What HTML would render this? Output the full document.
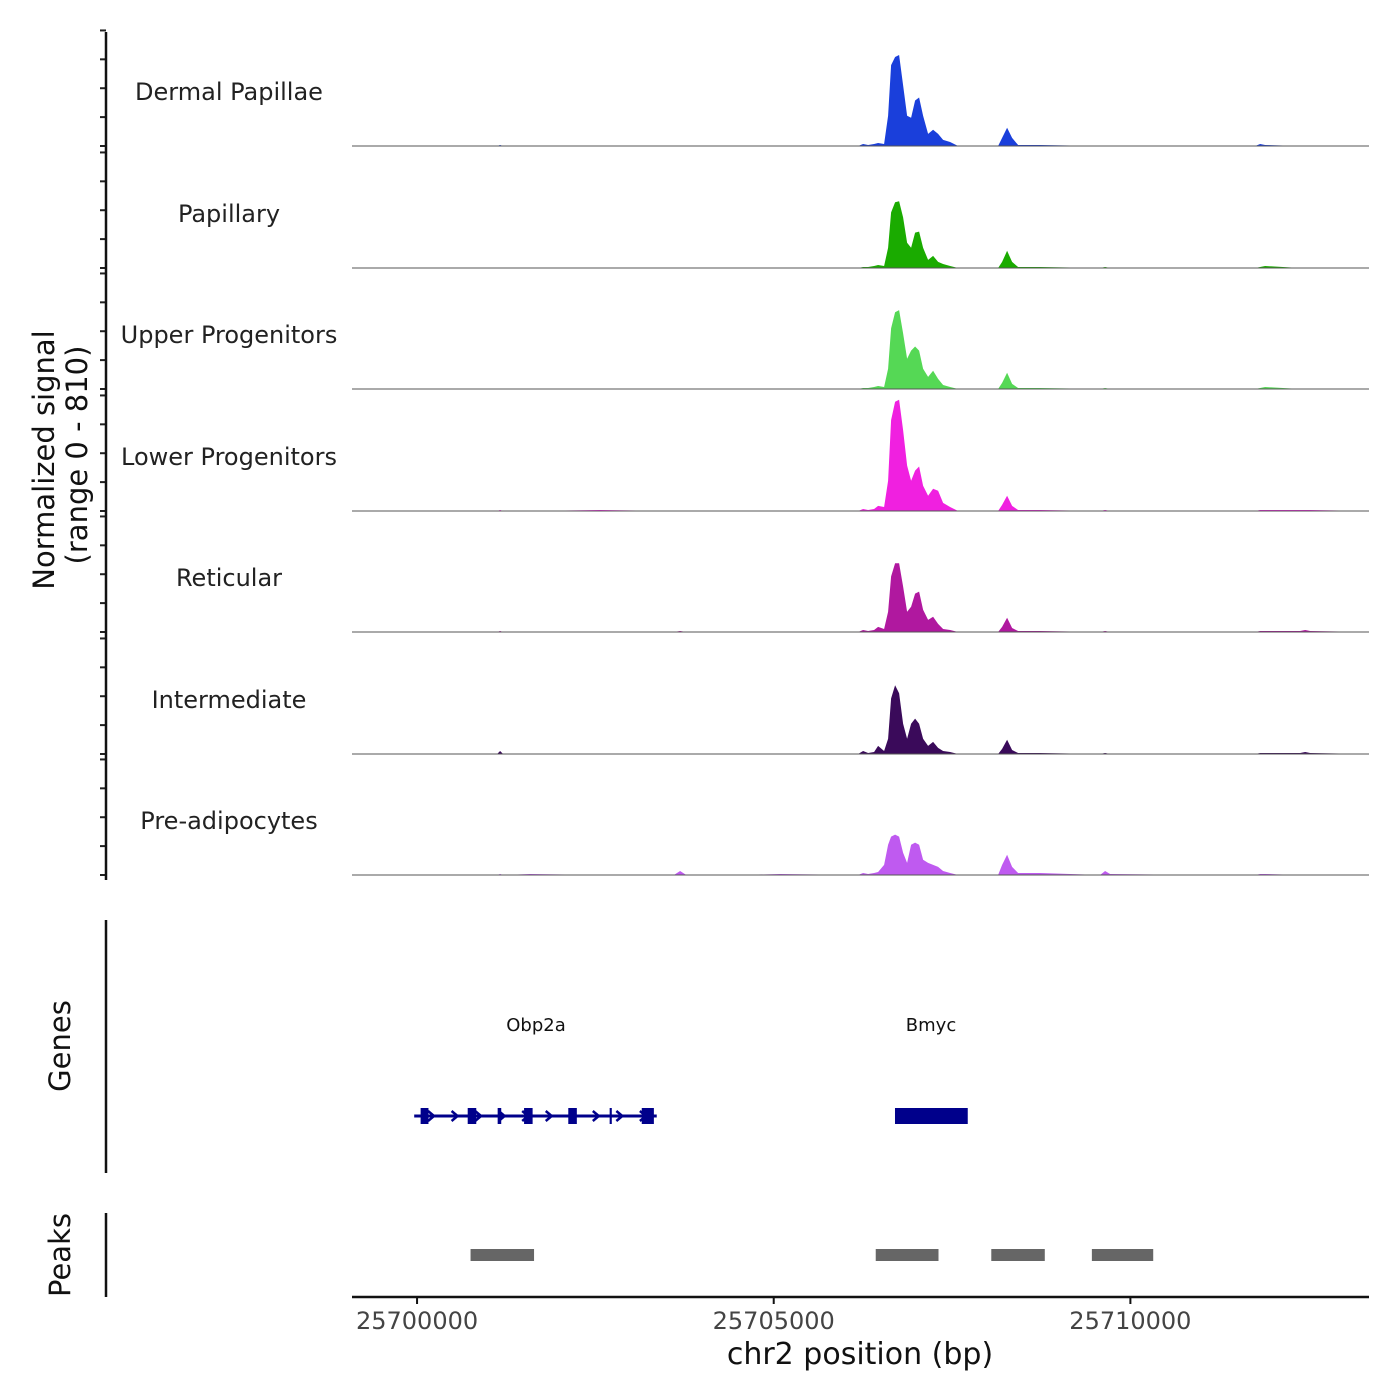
<!DOCTYPE html>
<html><head><meta charset="utf-8"><style>
body{margin:0;background:#fff}
svg{display:block;font-family:"DejaVu Sans","Liberation Sans",sans-serif}
</style></head><body>
<svg id="c" width="1400" height="1400" viewBox="0 0 1400 1400"></svg>
<script>
const positions=[25699131,25700042,25700743,25701122,25701164,25701206,25701584,25702566,25703600,25703687,25703774,25704528,25705089,25706183,25706253,25706323,25706407,25706463,25706547,25706603,25706645,25706702,25706758,25706814,25706870,25706926,25706982,25707038,25707094,25707164,25707234,25707304,25707375,25707473,25707585,25708146,25708202,25708272,25708342,25708426,25708734,25709576,25709646,25709716,25710978,25711749,25711819,25711889,25712380,25712450,25712520,25713333];
const trackNames=["Dermal Papillae","Papillary","Upper Progenitors","Lower Progenitors","Reticular","Intermediate","Pre-adipocytes"];
const trackColors=["#1a3fdb","#1aab00","#55d855","#f020e0","#b0189f","#3a0a5a","#bf5af0"];
const sigDermal=[0,0,0,0,7,0,0,0,0,0,0,0,0,0,14,7,14,21,14,210,560,616,630,420,210,196,315,336,210,84,112,84,42,28,0,0,56,126,56,7,7,0,0,0,0,0,14,7,0,0,0,0];
const sigPapillary=[0,0,0,0,3,0,0,0,0,0,0,0,0,0,7,7,14,21,14,140,385,455,462,350,175,140,245,252,140,56,84,42,28,14,0,0,42,119,42,7,7,0,7,0,0,0,7,14,0,0,0,0];
const sigUpper=[0,0,0,0,3,0,0,0,0,0,0,0,0,0,7,7,14,21,14,140,420,532,546,385,210,266,294,266,140,84,126,70,28,14,0,0,42,112,35,7,7,0,7,0,0,0,7,14,0,0,0,0];
const sigLower=[0,0,0,0,7,0,0,7,0,0,0,0,0,0,14,7,14,35,28,210,630,756,770,560,315,210,280,308,175,105,154,140,56,28,0,0,42,105,35,7,7,0,7,0,0,0,7,7,7,7,7,0];
const sigReticular=[0,0,0,0,7,0,0,0,0,7,0,0,0,0,14,7,14,35,21,140,385,476,476,315,140,175,266,280,154,84,105,56,21,14,0,0,35,98,28,7,7,0,7,0,0,0,7,7,7,14,7,0];
const sigIntermediate=[0,0,0,0,21,0,0,0,0,0,0,0,0,0,21,7,14,56,21,105,385,476,420,210,105,210,245,210,105,56,84,42,21,14,0,0,35,98,28,7,7,0,7,0,0,0,7,7,7,14,7,0];
const sigPreadipo=[0,0,0,0,7,0,7,0,0,28,0,0,7,0,14,7,14,21,70,210,266,280,266,154,84,210,224,210,105,84,70,56,28,14,0,0,70,140,56,14,14,0,28,7,0,0,7,7,0,0,0,0];
const allSignals=[sigDermal,sigPapillary,sigUpper,sigLower,sigReticular,sigIntermediate,sigPreadipo];
const xTicks=[25700000,25705000,25710000];
const yTickVals=[0,200,400,600,800];
const obpExons=[[25700050,25700160],[25700710,25700830],[25701130,25701180],[25701500,25701620],[25702120,25702240],[25702700,25702730],[25703150,25703320]];
const obpGene=[25699960,25703360];
const bmycGene=[25706700,25707720];
const peakRanges=[[25700750,25701640],[25706430,25707310],[25708050,25708800],[25709460,25710320]];
const maxSig=810;

const svg=document.getElementById('c');
const NS="http://www.w3.org/2000/svg";
const X0=352,X1=1369,BP0=25699088,BP1=25713345;
function xs(bp){return X0+(bp-BP0)/(BP1-BP0)*(X1-X0);}
const baselines=[146,268,389,511,632,754,875],TH=117;
function ys(v,i){return baselines[i]-v/maxSig*TH;}
function mk(tag,attrs,txt){const e=document.createElementNS(NS,tag);for(const k in attrs)e.setAttribute(k,attrs[k]);if(txt!==undefined)e.textContent=txt;svg.appendChild(e);return e;}

allSignals.forEach((sig,i)=>{
  let d="M"+xs(positions[0])+","+baselines[i];
  sig.forEach((v,j)=>{d+=" L"+xs(positions[j]).toFixed(1)+","+ys(v,i).toFixed(1);});
  d+=" L"+xs(positions[positions.length-1])+","+baselines[i]+"Z";
  const p=mk('path',{d:d,fill:trackColors[i]});
  
  
  const l=mk('line',{x1:X0,x2:X1,y1:baselines[i],y2:baselines[i],stroke:'#555','stroke-width':1});
  
  
  const t=mk('text',{x:229,y:baselines[i]-46,'text-anchor':'middle','font-size':24,fill:'#222'},trackNames[i]);
  
  
  yTickVals.forEach(v=>{
    const tk=mk('line',{x1:100,x2:106,y1:ys(v,i),y2:ys(v,i),stroke:'#222','stroke-width':2});
    
    
  });
});
[[32,880,'signal-y-axis'],[920,1173,'genes-y-axis'],[1213,1297,'peaks-y-axis']].forEach(a=>{
  const l=mk('line',{x1:106,x2:106,y1:a[0],y2:a[1],stroke:'#111','stroke-width':2.5});
  
  
});
let yt=mk('text',{transform:'translate(54,460) rotate(-90)','text-anchor':'middle','font-size':29,fill:'#111'},'Normalized signal');


yt=mk('text',{transform:'translate(87,455) rotate(-90)','text-anchor':'middle','font-size':29,fill:'#111'},'(range 0 - 810)');


yt=mk('text',{transform:'translate(70,1046) rotate(-90)','text-anchor':'middle','font-size':29,fill:'#111'},'Genes');


yt=mk('text',{transform:'translate(70,1255) rotate(-90)','text-anchor':'middle','font-size':29,fill:'#111'},'Peaks');



const GY=1116,GC="#00008b";
let g=mk('line',{x1:xs(obpGene[0]),x2:xs(obpGene[1]),y1:GY,y2:GY,stroke:GC,'stroke-width':3});


for(let bp=obpGene[0]+250;bp<obpGene[1]-100;bp+=330){
  const x=xs(bp);
  const a=mk('path',{d:`M${x-4},${GY-5} L${x+2},${GY} L${x-4},${GY+5}`,stroke:GC,'stroke-width':2.5,fill:'none'});
  
  
}
obpExons.forEach(e=>{
  const r=mk('rect',{x:xs(e[0]),y:GY-8,width:Math.max(2,xs(e[1])-xs(e[0])),height:16,fill:GC});
  
  
});
g=mk('rect',{x:xs(bmycGene[0]),y:GY-8,width:xs(bmycGene[1])-xs(bmycGene[0]),height:16,fill:GC});


g=mk('text',{x:536,y:1031,'text-anchor':'middle','font-size':18,fill:'#111'},'Obp2a');


g=mk('text',{x:931,y:1031,'text-anchor':'middle','font-size':18,fill:'#111'},'Bmyc');



peakRanges.forEach(p=>{
  const r=mk('rect',{x:xs(p[0]),y:1249,width:xs(p[1])-xs(p[0]),height:12,fill:'#666'});
  
  
});

let ax=mk('line',{x1:X0,x2:X1,y1:1297,y2:1297,stroke:'#111','stroke-width':2.5});


xTicks.forEach(v=>{
  const tk=mk('line',{x1:xs(v),x2:xs(v),y1:1297,y2:1304,stroke:'#111','stroke-width':2});
  
  
  const tl=mk('text',{x:xs(v),y:1329,'text-anchor':'middle','font-size':24,fill:'#444'},String(v));
  
  
});
ax=mk('text',{x:860,y:1364,'text-anchor':'middle','font-size':30,fill:'#111'},'chr2 position (bp)');


</script>
</body></html>
